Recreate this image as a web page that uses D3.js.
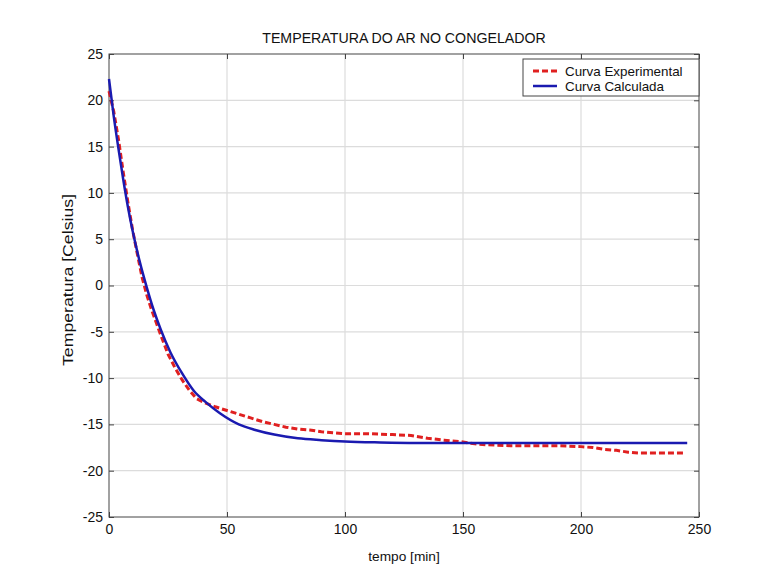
<!DOCTYPE html>
<html>
<head>
<meta charset="utf-8">
<script src="https://cdn.jsdelivr.net/npm/d3@7"></script>
<style>
  body { margin: 0; background: #fff; }
  text { font-family: "Liberation Sans", Arial, sans-serif; fill: #111; }
</style>
</head>
<body>
<svg id="chart" width="763" height="571"></svg>
<script>
// values
const expTime = [0, 2, 4, 6, 8, 10, 12, 14, 16, 18, 20, 22, 25, 28, 31, 34, 37, 40, 45, 50,
  55, 60, 65, 70, 75, 80, 85, 90, 95, 100, 110, 120, 128, 135, 142, 150, 155, 160, 170,
  180, 190, 200, 205, 210, 215, 220, 225, 235, 244];
const expTemp = [21.0, 18.8, 15.8, 12.3, 9.0, 6.0, 3.4, 0.9, -1.0, -2.6, -4.0, -5.4, -7.4, -8.9, -10.2, -11.3, -12.2, -12.6, -13.1, -13.5,
  -13.9, -14.3, -14.7, -15.0, -15.3, -15.5, -15.6, -15.8, -15.9, -16.0, -16.0, -16.1, -16.2, -16.5, -16.7, -16.9, -17.1, -17.2, -17.3,
  -17.3, -17.3, -17.4, -17.5, -17.7, -17.8, -18.0, -18.1, -18.1, -18.1];

const calcTime = [0, 2, 4, 6, 8, 10, 13, 16, 19, 22, 26, 31, 36, 41, 47, 55, 62, 70, 80, 90, 100, 115, 130, 150, 200, 245];
const calcTemp = [22.3, 18.3, 14.8, 11.5, 8.5, 5.9, 2.6, -0.2, -2.7, -4.8, -7.2, -9.5, -11.4, -12.6, -13.8, -15.0, -15.6, -16.1, -16.5, -16.7, -16.85, -16.95, -17.0, -17.0, -17.0, -17.0];

const xTicks = [0, 50, 100, 150, 200, 250];
const yTicks = [-25, -20, -15, -10, -5, 0, 5, 10, 15, 20, 25];

const chartTitle = "TEMPERATURA DO AR NO CONGELADOR";
const xLabel = "tempo [min]";
const yLabel = "Temperatura [Celsius]";
const legendLabels = ["Curva Experimental", "Curva Calculada"];

const svg = d3.select("#chart");
const margin = {top: 54, right: 64, bottom: 54, left: 109};
const width = 763 - margin.left - margin.right;
const height = 571 - margin.top - margin.bottom;

const x = d3.scaleLinear().domain([0, 250]).range([0, width]);
const y = d3.scaleLinear().domain([-25, 25]).range([height, 0]);

const g = svg.append("g").attr("transform", `translate(${margin.left},${margin.top})`);

// grid
g.append("g").selectAll("line").data(xTicks.slice(1, -1)).join("line")
  .attr("x1", d => x(d)).attr("x2", d => x(d))
  .attr("y1", 0).attr("y2", height)
  .attr("stroke", "#dcdcdc").attr("stroke-width", 1.2);
g.append("g").selectAll("line").data(yTicks.slice(1, -1)).join("line")
  .attr("y1", d => y(d)).attr("y2", d => y(d))
  .attr("x1", 0).attr("x2", width)
  .attr("stroke", "#dcdcdc").attr("stroke-width", 1.2);

// axes (ticks pointing inward, like matlab), plain hyphen minus
const fmt = d => String(d);
const axisStyle = sel => {
  sel.select(".domain").remove();
  sel.selectAll("line").attr("stroke", "#444");
  sel.selectAll("text").style("font-size", "14px")
    .style("font-family", "'Liberation Sans', Arial, sans-serif").attr("fill", "#111");
};
g.append("g").attr("transform", `translate(0,${height})`)
  .call(d3.axisBottom(x).tickValues(xTicks).tickFormat(fmt).tickSizeInner(-5).tickPadding(7))
  .call(axisStyle);
g.append("g")
  .call(d3.axisLeft(y).tickValues(yTicks).tickFormat(fmt).tickSizeInner(-5).tickPadding(6))
  .call(axisStyle);
g.append("g")
  .call(d3.axisTop(x).tickValues(xTicks).tickSizeInner(-5).tickFormat(""))
  .call(axisStyle);
g.append("g").attr("transform", `translate(${width},0)`)
  .call(d3.axisRight(y).tickValues(yTicks).tickSizeInner(-5).tickFormat(""))
  .call(axisStyle);

g.append("rect")
  .attr("width", width).attr("height", height)
  .attr("fill", "none").attr("stroke", "#444").attr("stroke-width", 1);

// curves
const expData = expTime.map((t, i) => [t, expTemp[i]]);
const calcData = calcTime.map((t, i) => [t, calcTemp[i]]);

g.append("path")
  .datum(expData)
  .attr("fill", "none")
  .attr("stroke", "#e02020")
  .attr("stroke-width", 3)
  .attr("stroke-dasharray", "6,3")
  .attr("d", d3.line().x(d => x(d[0])).y(d => y(d[1])));

g.append("path")
  .datum(calcData)
  .attr("fill", "none")
  .attr("stroke", "#1a1ab0")
  .attr("stroke-width", 2.5)
  .attr("d", d3.line().curve(d3.curveMonotoneX).x(d => x(d[0])).y(d => y(d[1])));

// title & labels
svg.append("text")
  .attr("x", margin.left + width / 2).attr("y", 43)
  .attr("text-anchor", "middle").style("font-size", "14.2px")
  .text(chartTitle);
svg.append("text")
  .attr("x", margin.left + width / 2).attr("y", 561)
  .attr("text-anchor", "middle").style("font-size", "13.7px")
  .text(xLabel);
svg.append("text")
  .attr("transform", `translate(73,280) rotate(-90)`)
  .attr("text-anchor", "middle").style("font-size", "14px")
  .attr("textLength", 172).attr("lengthAdjust", "spacingAndGlyphs")
  .text(yLabel);

// legend
const legend = svg.append("g").attr("transform", "translate(523,59)");
legend.append("rect")
  .attr("width", 176).attr("height", 37)
  .attr("fill", "#fff").attr("stroke", "#444").attr("stroke-width", 1);
const legendStyles = [
  {stroke: "#e02020", width: 3, dash: "6,3"},
  {stroke: "#1a1ab0", width: 2.5, dash: null}
];
legendLabels.forEach((label, i) => {
  const row = legend.append("g").attr("transform", `translate(0,${12 + i * 15})`);
  row.append("line")
    .attr("x1", 10).attr("x2", 34).attr("y1", 0).attr("y2", 0)
    .attr("stroke", legendStyles[i].stroke)
    .attr("stroke-width", legendStyles[i].width)
    .attr("stroke-dasharray", legendStyles[i].dash);
  row.append("text")
    .attr("x", 42).attr("y", 5)
    .style("font-size", "13.4px")
    .text(label);
});
</script>
</body>
</html>
